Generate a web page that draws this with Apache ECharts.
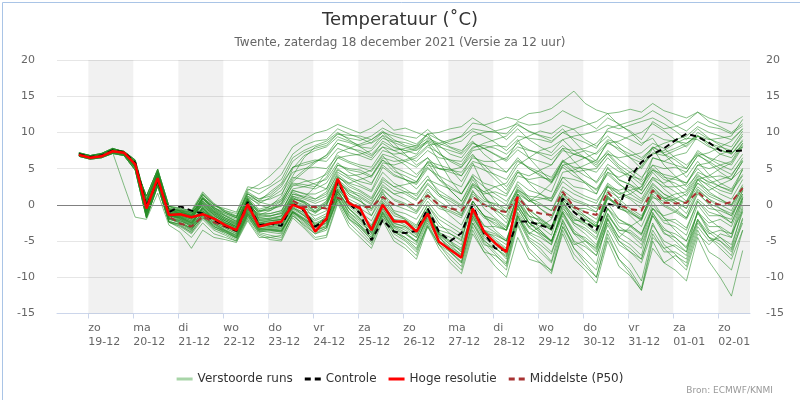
<!DOCTYPE html>
<html><head><meta charset="utf-8">
<script src="https://cdn.jsdelivr.net/npm/echarts@6/dist/echarts.min.js"></script>
<style>html,body{margin:0;padding:0;background:#fff}#c{width:800px;height:400px}</style>
</head><body><div id="c"></div><script>
// Tick labels (one per day, tick at local midnight)
const dayNames = ['zo','ma','di','wo','do','vr','za','zo','ma','di','wo','do','vr','za','zo'];
const dayDates = ['19-12','20-12','21-12','22-12','23-12','24-12','25-12','26-12','27-12','28-12','29-12','30-12','31-12','01-01','02-01'];
const shadedDays = [0,2,4,6,8,10,12,14];
// forecast steps: 6-hourly from 18-12 19h local (hours relative to 19-12 00h)
const firstStepHour = -5, stepHours = 6, nSteps = 60;

const hoogResolutie = [6.9,6.5,6.7,7.4,7.2,5.6,-0.5,3.7,-1.4, -1.3,-1.7,-1.3,-1.9, -2.8,-3.5,0.1,-3.0, -2.6,-2.3,0.0,-0.6, -3.7,-1.9,3.6,0.2, -0.5,-3.5,0.0,-2.3, -2.3,-3.7,-1.2,-5.1, -6.2,-7.3,-0.5,-3.7, -5.3,-6.5,1.1];
const controle = [7.0,6.6,6.8,7.5,7.3,5.8,-0.2,3.4,-1.0, -0.2,-0.8,-1.2,-2.1, -2.9,-3.6,0.4,-2.8, -2.6,-2.9,0.2,-0.8, -3.0,-2.0,3.2,0.2, -1.2,-4.9,-2.1,-3.7, -3.9,-3.6,-0.5,-3.7, -5.0,-3.9,0.0,-3.9, -6.0,-6.3,-2.3,-2.3, -2.8,-3.3,0.9,-1.0, -2.3,-3.5,0.2,-0.4, 3.8,5.9,7.0,7.8, 8.9,9.8,9.4,8.6, 7.5,7.4,7.5];
const middelste = [6.9,6.5,6.7,7.4,7.2,5.6,-0.4,3.6,-1.6, -2.6,-3.0,-1.6,-2.4, -3.0,-3.6,-0.3,-2.8, -2.6,-2.4,0.6,-0.3, -0.3,-0.5,1.0,0.3, -0.3,-0.3,1.1,0.0, 0.0,0.0,1.3,0.0, -0.5,-0.8,1.1,0.0, -0.7,-1.0,1.1,-0.7, -1.2,-1.4,1.8,-0.3, -1.0,-1.4,1.8,0.0, -0.6,-0.8,2.0,0.3, 0.2,0.3,1.8,0.4, 0.0,0.4,2.3];

const member01 = [7.0,6.6,6.8,7.5,7.3,5.9,-0.3,3.9,-1.2, -1.0,-1.5,0.8,-0.5, -1.2,-1.8,2.0,2.8, 4.0,5.5,8.0,9.0, 9.9,10.3,11.1,10.5, 9.9,10.6,11.7,10.3, 10.6,10.0,9.4,8.2, 7.0,6.5,8.5,7.8, 7.0,6.2,8.8,9.5, 10.2,9.8,11.0,10.4, 9.0,8.1,9.5,8.0, 6.5,5.0,7.2,6.8, 7.5,8.2,10.0,9.1, 8.5,8.0,10.2];
const member02 = [7.1,6.7,6.9,7.7,7.4,6.2,0.5,4.6,-0.6, -0.8,-1.2,1.5,-0.3, -1.5,-2.3,0.8,-1.0, -0.6,0.2,3.5,4.8, 6.0,6.8,8.5,8.0, 7.2,6.5,8.8,7.9, 7.5,7.0,9.0,8.2, 8.8,9.5,11.3,11.0, 11.5,12.1,11.7,12.6, 12.8,13.3,14.5,15.7, 14.0,13.1,12.6,11.0, 10.2,9.0,11.5,10.5, 10.8,11.5,12.8,12.0, 11.5,11.2,12.2];
const member03 = [6.9,6.5,6.8,7.6,7.0,5.2,1.2,4.9,-0.2, -0.5,-0.8,1.8,0.2, -0.8,-1.5,1.5,0.5, 0.8,1.5,4.0,6.5, 8.0,8.5,9.8,9.2, 8.9,9.5,10.6,9.8, 9.5,9.2,10.4,9.0, 8.4,8.8,10.2,9.5, 8.6,7.5,9.0,6.5, 4.8,3.2,6.0,4.5, 3.0,1.5,5.2,3.4, 2.8,2.0,6.5,6.0, 6.8,7.2,9.5,9.0, 9.2,9.5,11.8];
const member04 = [7.0,6.6,6.9,7.5,7.2,5.8,-0.5,3.6,-1.3, -1.6,-2.2,0.5,-1.0, -2.0,-2.6,0.6,-0.8, -0.5,0.5,3.2,4.5, 5.8,6.9,9.0,8.6, 8.0,7.8,9.6,8.8, 8.6,8.1,9.2,8.5, 7.9,7.2,9.5,10.0, 10.2,10.6,11.2,10.1, 9.5,8.8,10.0,9.2, 8.6,7.8,10.5,11.0, 11.5,12.0,13.0,12.1, 11.0,10.2,11.5,10.8, 10.5,9.8,10.9];
const member05 = [7.2,6.8,7.1,7.8,7.3,5.6,-0.8,3.4,-1.5, -1.8,-2.5,0.2,-1.4, -2.5,-3.0,0.4,-1.0, -0.2,1.2,5.0,6.8, 7.5,8.0,9.4,8.8, 8.2,8.6,10.0,9.5, 9.0,8.4,9.8,7.5, 5.0,3.2,5.8,2.5, 0.5,-1.0,2.5,0.8, -0.5,-1.8,1.5,-0.2, -1.5,-2.8,1.0,-0.5, -1.2,-2.0,2.2,1.0, 0.5,-0.5,3.5,2.8, 2.0,1.5,5.0];
const member06 = [6.8,6.4,6.6,7.3,7.1,5.4,-1.0,3.2,-1.8, -2.0,-2.8,-0.5,-2.0, -2.8,-3.3,-0.2,-2.2, -2.0,-1.5,1.5,1.0, 2.5,4.5,7.2,7.8, 8.4,9.0,10.2,9.0, 8.2,7.9,8.8,7.0, 6.2,5.5,7.8,8.5, 9.0,9.5,11.0,10.2, 9.6,9.2,10.5,8.8, 7.2,6.0,8.8,7.5, 6.5,5.8,8.0,7.0, 6.2,5.0,7.5,6.4, 5.5,4.8,7.0];
const member07 = [7.1,6.8,7.0,7.6,7.3,6.0,0.2,4.3,-0.8, -1.0,-1.4,1.2,-0.6, -1.4,-2.0,1.0,0.2, 1.0,2.0,4.5,5.0, 5.2,5.0,6.8,6.0, 5.5,5.2,7.5,7.0, 7.2,7.6,8.8,8.0, 7.5,7.0,8.6,7.8, 6.9,6.0,7.6,6.5, 6.0,5.5,7.8,7.5, 7.8,8.5,10.2,9.6, 9.0,8.2,9.8,9.0, 8.8,8.5,9.6,8.5, 7.6,7.0,9.0];
const member08 = [6.7,6.3,6.5,7.1,6.8,4.8,-1.8,2.6,-2.4, -2.6,-3.2,-0.8,-2.3, -3.0,-3.8,-0.5,-2.6, -3.0,-3.2,0.2,-0.5, -1.0,0.5,3.8,3.0, 3.5,4.0,6.5,6.0, 6.2,6.8,8.2,8.5, 9.0,9.4,10.5,10.2, 10.0,9.8,11.5,11.0, 11.2,11.8,13.0,12.2, 11.5,10.5,12.0,11.2, 10.0,8.5,9.2,7.0, 5.5,3.8,6.0,4.2, 3.0,2.2,4.8];
const member09 = [6.9,6.6,6.8,7.4,7.1,5.5,0.6,4.4,-0.7, -1.2,-1.8,0.9,-0.9, -1.8,-2.4,0.9,-1.3, -1.6,-1.0,2.0,1.5, 1.5,2.2,5.5,5.0, 4.8,4.0,6.2,5.2, 4.5,3.8,5.9,5.0, 4.8,5.2,7.5,7.8, 8.2,8.0,9.5,9.2, 9.0,8.6,10.0,10.5, 11.0,11.5,12.6,12.8, 13.2,12.8,14.0,13.0, 12.5,12.0,12.8,11.5, 10.8,10.0,11.2];
const member10 = [7.0,6.5,6.7,7.4,7.2,5.7,-0.4,3.8,-1.2, -1.4,-2.0,0.6,-0.8, -1.5,-2.2,1.2,0.5, 1.8,3.0,6.0,7.2, 7.8,8.2,9.8,9.6, 9.5,9.0,10.0,8.5, 7.0,5.5,6.5,4.0, 2.0,0.5,3.5,1.2, -0.5,-2.0,1.5,-1.0, -2.5,-3.5,0.5,-1.8, -2.8,-4.0,0.2,-2.0, -3.0,-4.2,-0.5,-1.5, -1.0,0.5,3.5,4.0, 5.0,5.8,8.2];
const member11 = [7.1,6.7,7.0,7.7,7.3,5.7,-0.6,3.5,-1.4, -1.5,-2.0,0.8,-0.4, -1.0,-1.6,1.2,0.0, -0.5,-0.2,2.2,2.5, 3.0,3.5,5.8,4.5, 3.8,3.0,5.5,4.2, 3.5,2.8,5.0,4.0, 3.2,2.5,5.5,4.8, 4.2,3.5,6.0,5.2, 4.5,3.8,6.2,5.0, 4.0,3.2,5.6,4.6, 4.0,3.5,6.5,6.0, 5.5,5.0,7.2,6.5, 6.0,5.5,8.0];
const member12 = [6.8,6.5,6.6,7.3,7.0,5.3,-1.2,3.0,-1.9, -2.2,-3.0,-0.2,-1.6, -2.2,-3.0,0.3,-1.5, -1.2,-0.8,1.8,1.0, 0.5,1.2,4.5,3.6, 2.8,2.0,5.2,4.0, 3.5,3.0,6.0,5.5, 5.0,4.0,6.8,5.5, 4.0,2.5,4.8,3.0, 1.5,0.5,3.8,2.5, 2.2,1.5,4.5,3.8, 4.5,5.2,7.8,8.5, 9.0,9.5,10.8,10.0, 9.5,9.0,10.5];
const member13 = [7.0,6.6,6.8,7.5,7.3,5.9,-0.3,3.9,-1.2, -1.3,-1.7,-1.0,-1.8, -2.6,-3.4,0.2,-2.8, -2.4,-2.0,0.5,-0.2, -2.0,-1.2,3.0,1.2, 0.5,-0.5,2.0,0.8, 0.2,-0.8,1.8,0.5, -0.5,-1.2,1.5,0.2, -0.8,-1.6,1.8,0.5, 0.0,-0.8,2.5,1.5, 0.8,0.2,3.0,1.8, 1.0,0.2,2.8,1.5, 0.8,0.2,2.5,1.2, 0.5,0.0,2.8];
const member14 = [7.2,6.8,7.1,7.8,7.3,5.6,-0.8,3.4,-1.5, -1.7,-2.4,-0.6,-2.1, -3.0,-3.6,-0.5,-2.9, -2.8,-2.5,0.2,-0.8, -1.5,-0.8,2.8,0.8, 0.0,-0.8,1.5,0.0, -0.6,-1.2,1.0,-0.5, -1.0,-1.8,1.2,0.0, -0.5,-1.0,2.0,1.2, 1.0,0.5,3.2,2.0, 1.2,0.6,2.6,0.8, -0.5,-1.5,1.2,-0.2, -1.0,-2.0,0.8,-0.5, -0.8,-1.5,1.5];
const member15 = [6.8,6.4,6.6,7.3,7.1,5.4,-1.0,3.2,-1.8, -2.2,-2.8,-1.5,-2.6, -3.4,-4.2,-1.0,-3.2, -3.5,-3.8,-0.8,-1.8, -3.0,-2.5,1.8,-1.0, -2.5,-3.8,-0.5,-2.8, -3.5,-4.5,-1.5,-3.8, -5.0,-6.0,-1.8,-4.0, -5.0,-6.2,-1.0,-3.2, -4.0,-5.0,-0.8,-2.5, -3.2,-4.5,-0.5,-2.0, -2.8,-4.0,0.0,-1.8, -2.5,-3.5,0.5,-1.0, -1.5,-2.5,1.2];
const member16 = [6.7,6.3,6.5,7.1,6.8,4.8,-1.8,2.6,-2.4, -3.0,-4.0,-2.0,-3.5, -4.2,-5.0,-1.5,-4.0, -4.5,-4.8,-1.2,-3.0, -4.5,-4.2,0.5,-2.5, -4.0,-5.5,-1.8,-4.5, -5.5,-7.0,-2.5,-5.5, -7.0,-8.5,-3.0,-6.0, -7.5,-9.0,-2.8,-6.5, -8.0,-9.5,-3.5,-6.8, -8.5,-10.0,-4.0,-7.5, -9.5,-11.8,-5.0,-8.0, -9.0,-10.5,-4.5,-7.8, -10.0,-12.6,-6.3];
const member17 = [6.9,6.5,6.8,7.6,7.0,5.2,1.2,4.9,-0.2, -0.6,-1.0,0.2,-1.2, -2.2,-3.0,0.8,-2.0, -2.0,-1.8,1.0,0.2, -1.0,0.0,3.4,1.5, 0.8,-1.5,1.8,-1.0, -2.0,-3.5,-0.5,-4.0, -5.5,-7.0,-1.0,-4.5, -5.8,-7.5,-1.5,-4.8, -6.0,-7.8,-2.0,-5.2, -6.5,-8.2,-1.8,-4.5, -5.5,-7.0,-1.0,-3.8, -5.0,-6.5,-0.8,-3.5, -4.5,-6.0,-0.5];
const member18 = [7.0,6.6,6.8,7.5,7.2,5.8,-0.2,4.0,-1.0, -1.2,-1.6,0.0,-1.5, -2.4,-3.2,0.4,-2.6, -2.6,-2.8,-0.2,-1.2, -3.2,-2.0,2.5,0.0, -1.2,-3.0,0.2,-2.0, -2.8,-3.8,-0.8,-4.5, -6.0,-7.0,-0.8,-3.5, -4.5,-5.5,0.5,-2.0, -3.0,-4.2,0.8,-1.0, -2.0,-3.0,2.0,1.0, 1.5,2.5,5.5,5.0, 5.2,4.5,6.8,6.0, 5.0,4.2,6.2];
const member19 = [7.1,6.7,7.0,7.6,7.2,5.5,-1.2,3.0,-1.9, -2.5,-3.5,-1.2,-3.0, -3.8,-4.6,-1.4,-3.6, -3.8,-4.0,-1.0,-2.2, -3.5,-3.0,1.2,-1.5, -3.0,-4.5,-1.2,-3.5, -4.5,-5.5,-2.0,-5.0, -6.5,-8.0,-2.5,-5.0, -6.0,-7.2,-1.2,-3.8, -4.5,-5.5,0.2,-1.5, -2.5,-3.0,1.5,0.5, -1.0,-2.0,2.0,0.8, -0.5,-1.8,1.8,0.0, -1.2,-2.5,1.0];
const member20 = [7.1,6.7,6.9,7.7,7.4,6.2,0.5,4.6,-0.6, -0.9,-1.3,-0.2,-1.3, -2.2,-2.8,0.6,-2.2, -2.2,-2.0,0.4,-0.6, -3.0,-1.5,3.0,0.4, -0.8,-3.2,0.3,-2.0, -2.2,-3.2,-0.8,-4.0, -5.0,-6.5,-0.5,-3.5, -4.8,-6.0,0.8,-2.5, -2.5,-3.2,1.2,-0.5, -1.8,-3.0,0.8,0.0, 3.5,5.5,7.0,7.5, 8.5,9.2,9.0,8.0, 7.5,7.2,8.0];
const member21 = [6.9,6.5,6.7,7.4,7.1,5.5,-0.8,3.5,-1.6, -1.8,-2.6,-0.4,-1.8, -2.5,-3.0,0.2,-1.4, -0.8,0.2,2.6,3.2, 3.5,4.2,6.5,5.8, 5.2,4.6,6.8,5.0, 3.5,2.2,4.0,1.5, 0.0,-1.5,2.0,-0.5, -1.8,-3.0,0.5,-1.5, -2.2,-3.5,-0.2,-2.8, -4.0,-5.5,-1.2,-3.8, -4.8,-6.0,-1.5,-4.0, -4.5,-5.8,-1.0,-2.5, -2.0,-3.0,0.8];
const member22 = [6.7,6.4,6.6,7.2,6.9,5.0,-1.5,2.8,-2.2, -2.8,-3.8,-1.6,-3.2, -4.0,-4.8,-1.8,-3.8, -4.2,-4.5,-1.5,-2.6, -4.0,-3.5,0.8,-2.0, -3.5,-5.2,-1.5,-4.0, -5.0,-6.5,-3.0,-6.0, -8.0,-9.5,-4.0,-6.5, -7.0,-8.2,-2.0,-5.0, -6.5,-8.0,-3.0,-6.0, -7.5,-9.0,-3.5,-6.5, -8.0,-10.5,-4.0,-6.5, -6.5,-7.5,-2.5,-4.5, -5.5,-7.0,-2.0];
const member23 = [7.0,6.6,6.8,7.5,7.3,5.9,-0.3,3.9,-1.2, -1.5,-2.2,-0.8,-2.2, -3.0,-3.8,-0.6,-3.0, -3.0,-2.8,-0.5,-1.0, -2.2,-1.5,2.2,0.5, -0.5,-1.5,1.0,-0.8, -1.2,-2.0,0.5,-1.5, -2.5,-3.5,0.0,-1.8, -2.5,-3.5,0.2,-1.6, -2.0,-3.0,0.8,-1.0, -1.5,-2.5,1.2,-0.5, -1.0,-2.2,1.5,0.0, -0.8,-1.8,1.5,0.2, -0.5,-1.2,2.0];
const member24 = [7.0,6.6,6.9,7.6,7.1,5.4,0.8,4.6,-0.4, -0.7,-1.1,0.5,-0.9, -1.8,-2.6,0.2,-1.8, -1.5,-1.2,1.2,0.8, 0.2,0.8,4.0,2.5, 1.8,0.8,3.2,2.0, 1.5,0.6,2.8,1.2, 0.5,-0.5,2.5,1.5, 1.8,1.2,4.0,3.5, 3.8,3.5,6.0,5.2, 5.0,4.5,6.5,5.0, 3.5,2.0,4.5,2.8, 1.8,0.5,3.0,1.5, 0.8,0.0,2.5];
const member25 = [7.2,6.8,7.1,7.8,7.3,5.6,-0.8,3.4,-1.5, -2.0,-2.9,-1.0,-2.5, -3.2,-4.0,-0.8,-3.3, -3.2,-3.3,-0.6,-1.5, -2.6,-2.2,2.0,-0.5, -1.8,-3.5,0.0,-2.5, -3.0,-4.2,-1.0,-4.2, -6.5,-7.8,-1.5,-4.8, -6.5,-8.0,-1.8,-4.0, -3.0,-2.0,1.5,0.5, 0.0,-1.0,2.8,1.5, 0.8,-0.5,2.5,1.0, 0.2,-1.2,2.0,0.8, 0.0,-0.8,2.5];
const member26 = [6.8,6.4,6.6,7.3,7.1,5.4,-1.0,3.2,-1.8, -2.4,-3.2,-1.8,-2.8, -3.6,-4.4,-1.2,-3.4, -3.3,-3.5,-0.9,-2.0, -3.5,-2.8,1.5,-1.2, -2.8,-4.2,-1.0,-3.2, -4.0,-5.0,-1.8,-4.5, -5.8,-6.8,-1.5,-4.2, -5.5,-6.8,-1.5,-4.5, -5.5,-6.8,-2.2,-5.0, -5.8,-7.0,-2.5,-5.0, -6.5,-7.5,-2.8,-5.0, -5.8,-7.0,-2.2,-4.5, -5.0,-6.2,-1.8];
const member27 = [7.0,6.7,6.9,7.6,7.4,6.0,0.2,4.2,-0.8, -1.0,-1.5,0.0,-1.4, -2.4,-3.2,0.0,-2.4, -2.5,-2.4,0.3,-0.5, -2.8,-1.8,2.8,0.2, -1.0,-2.8,0.5,-1.5, -2.0,-3.0,0.0,-2.5, -4.0,-5.0,0.5,-1.5, -2.8,-3.5,1.5,0.5, 1.5,3.0,6.0,7.0, 7.5,7.0,8.5,7.8, 7.0,6.2,8.0,7.2, 7.8,8.5,9.5,8.2, 7.0,6.5,8.5];
const member28 = [6.9,6.6,6.8,7.4,7.2,5.7,-0.6,3.6,-1.4, -1.6,-2.3,-0.4,-1.9, -2.8,-3.6,0.0,-2.5, -2.2,-2.0,0.8,0.5, -0.5,0.5,3.5,2.2, 1.0,0.0,2.8,1.5, 0.8,-0.2,2.2,0.0, -1.5,-2.8,0.5,-1.5, -2.2,-3.5,0.0,-2.5, -3.5,-5.0,-1.0,-3.8, -5.0,-6.5,-2.0,-5.0, -6.0,-7.5,-2.5,-5.5, -6.8,-8.5,-3.5,-6.5, -7.5,-9.0,-3.5];
const member29 = [6.9,6.5,6.8,7.6,7.0,5.2,1.2,4.9,-0.2, -0.4,-0.9,1.4,0.0, -1.0,-1.8,1.6,0.4, 0.0,0.8,3.8,3.5, 2.8,2.2,5.0,3.8, 3.2,2.8,5.8,5.5, 6.0,6.5,8.0,7.2, 6.0,5.2,7.0,5.0, 3.5,2.0,4.5,3.2, 2.5,1.8,5.5,5.8, 6.5,7.2,9.0,8.5, 7.5,6.5,7.8,5.5, 4.0,2.5,4.2,3.0, 3.5,4.0,6.5];
const member30 = [6.7,6.3,6.5,7.1,6.8,4.8,-1.8,2.6,-2.4, -2.9,-3.8,-1.8,-3.3, -3.8,-4.6,-1.6,-3.7, -3.6,-3.7,-1.1,-2.4, -3.8,-3.2,1.0,-1.8, -3.2,-4.8,-1.5,-3.8, -4.5,-6.0,-2.2,-5.0, -6.0,-7.2,-2.0,-5.2, -6.8,-8.5,-2.5,-6.0, -7.5,-9.2,-4.0,-7.5, -9.0,-10.8,-5.0,-8.5, -9.8,-11.8,-6.0,-8.0, -7.0,-8.0,-3.0,-5.0, -4.5,-5.5,-1.0];
const member31 = [7.1,6.8,7.0,7.6,7.2,5.6,-0.4,3.8,-1.1, -1.2,-1.8,0.9,-0.7, -1.8,-2.5,0.8,-0.8, -0.8,0.0,2.8,2.5, 2.2,3.0,5.5,4.8, 4.5,3.8,6.2,4.6, 4.0,3.2,5.2,3.5, 2.5,1.5,4.2,3.0, 2.5,1.5,4.5,4.0, 4.8,5.5,7.5,7.0, 6.5,5.8,7.2,5.5, 4.5,3.2,5.0,3.8, 3.5,3.0,5.5,5.0, 5.5,6.0,8.5];
const member32 = [7.0,6.6,6.8,7.5,7.3,5.9,-0.3,3.9,-1.2, -1.9,-2.6,-1.2,-2.4, -3.2,-4.0,-0.9,-3.2, -3.1,-3.0,-0.4,-1.4, -2.8,-2.0,1.8,-0.2, -1.5,-3.0,0.0,-2.2, -2.5,-3.5,-0.5,-3.0, -3.5,-4.5,-0.5,-2.8, -3.8,-5.0,-0.5,-3.0, -4.2,-5.5,-1.5,-4.0, -4.5,-5.8,-1.2,-3.5, -3.5,-4.8,-0.5,-2.5, -3.0,-4.2,0.0,-2.0, -3.2,-4.5,-0.2];
const member33 = [6.9,6.5,6.7,7.4,7.2,5.6,-0.7,3.4,-1.5, -1.7,-2.5,-0.8,-2.0, -2.9,-3.5,-0.3,-2.7, -2.5,-2.2,0.6,0.0, -1.2,0.0,3.2,1.8, 1.2,0.2,2.5,1.5, 1.8,1.5,3.5,2.8, 2.2,1.5,3.8,2.5, 1.5,0.5,2.8,1.0, 0.2,-0.8,2.0,0.8, 0.2,-0.5,2.5,1.5, 2.0,2.5,4.8,4.2, 3.8,3.0,5.0,3.5, 2.5,1.8,4.0];
const member34 = [7.0,6.6,6.9,7.5,7.1,5.5,0.9,4.5,-0.5, -0.8,-1.3,1.0,-0.6, -1.6,-2.3,1.0,-0.6, -0.2,0.6,3.0,2.8, 2.5,3.8,6.5,6.8, 7.0,7.5,9.2,8.6, 8.0,7.5,8.6,6.0, 3.5,1.5,4.0,1.2, -1.0,-2.5,1.0,-1.5, -3.5,-5.0,-1.2,-4.0, -5.5,-7.0,-2.8,-5.5, -6.5,-8.0,-3.5,-6.0, -7.5,-9.0,-4.0,-5.5, -4.0,-4.5,0.5];
const member35 = [7.1,6.7,6.9,7.7,7.4,6.2,0.5,4.6,-0.6, -0.7,-1.0,1.6,0.1, -1.0,-1.6,1.8,0.8, 1.2,2.5,5.2,5.8, 6.2,6.0,7.8,7.2, 6.8,6.2,8.0,7.5, 7.8,8.2,9.8,9.0, 8.0,7.5,8.8,7.0, 5.8,4.5,6.5,5.0, 4.2,3.0,5.2,4.0, 3.2,2.0,4.2,2.8, 2.0,0.8,3.5,2.5, 2.5,2.8,5.5,5.8, 7.0,7.5,9.5];
const member36 = [6.8,6.4,6.6,7.2,7.0,5.1,-1.4,3.0,-2.0, -2.5,-3.4,-1.0,-2.6, -3.5,-4.2,-0.7,-3.0, -2.8,-2.6,0.0,-0.8, -2.5,-1.8,2.2,0.2, -1.0,-2.2,0.8,-1.2, -1.8,-2.8,0.0,-2.0, -3.0,-4.0,0.5,-1.5, -3.5,-4.8,-0.2,-2.5, -3.8,-5.2,-0.5,-2.2, -2.0,-3.0,1.0,0.0, -1.5,-3.0,0.5,-1.8, -3.5,-5.0,-1.0,-3.8, -5.0,-6.5,-2.5];
const member37 = [7.2,6.8,7.1,7.8,7.3,5.6,-0.8,3.4,-1.5, -1.9,-2.7,-0.3,-1.7, -2.6,-3.2,0.0,-2.0, -1.8,-1.5,1.2,0.5, -0.5,0.2,3.8,2.8, 2.0,1.0,3.8,2.5, 1.8,0.8,3.0,1.5, 0.8,-0.2,2.8,1.8, 1.0,0.0,3.2,2.0, 1.5,0.8,4.5,4.8, 5.5,6.2,8.5,8.8, 9.5,10.0,11.2,10.2, 9.0,8.0,9.5,8.5, 8.0,7.5,9.8];
const member38 = [6.8,6.4,6.6,7.3,7.1,5.4,-1.0,3.2,-1.8, -2.1,-3.0,-1.4,-2.7, -3.5,-4.3,-1.1,-3.5, -3.4,-3.5,-0.9,-1.9, -3.2,-2.6,1.5,-1.0, -2.2,-3.8,-0.8,-3.0, -3.8,-5.0,-1.5,-4.0, -5.2,-6.5,-1.2,-4.0, -4.2,-5.0,0.0,-2.5, -3.8,-5.0,-1.0,-3.5, -4.8,-6.2,-2.0,-4.5, -3.0,-2.0,1.0,0.5, 0.8,1.5,3.8,2.5, 1.5,0.8,3.5];
const member39 = [7.0,6.6,6.8,7.5,7.3,5.9,-0.3,3.9,-1.2, -1.1,-1.6,0.4,-1.1, -2.0,-2.8,0.5,-1.6, -1.5,-1.2,1.5,1.2, 0.8,1.8,4.8,4.0, 4.2,4.8,7.0,6.5, 5.5,4.2,5.8,3.5, 2.0,0.5,3.0,1.8, 2.5,3.0,5.5,6.5, 7.5,8.0,9.0,9.5, 9.8,10.2,11.0,10.5, 11.0,11.5,12.0,11.2, 10.2,9.0,10.5,9.2, 8.2,7.0,8.8];
const member40 = [6.7,6.3,6.5,7.1,6.8,4.8,-1.8,2.6,-2.4, -3.2,-4.5,-2.5,-4.0, -4.5,-5.0,-2.0,-4.2, -4.8,-5.0,-1.8,-3.2, -4.8,-4.5,0.2,-3.0, -4.5,-6.0,-2.2,-5.0, -6.0,-7.5,-3.0,-5.5, -6.5,-8.0,-2.5,-5.5, -6.0,-7.0,-1.5,-4.0, -5.0,-6.5,-2.5,-6.0, -8.0,-10.0,-4.5,-7.5, -9.0,-11.5,-4.5,-6.0, -5.5,-6.5,-2.0,-4.0, -3.5,-4.0,1.0];
const member41 = [7.1,6.8,7.0,7.7,7.3,6.0,0.4,4.4,-0.7, -0.8,-1.1,1.4,0.0, -0.8,-1.2,2.2,1.5, 2.5,3.5,6.5,7.5, 8.2,8.8,10.0,9.0, 8.0,7.0,8.5,7.5, 6.8,6.0,7.5,6.5, 6.2,6.0,8.0,8.2, 7.8,7.0,8.5,7.6, 7.0,6.2,7.8,6.0, 4.5,3.0,5.0,3.5, 2.8,1.5,3.8,3.0, 3.8,4.5,6.8,7.2, 8.0,8.8,10.5];
const member42 = [7.0,6.7,6.9,7.6,7.3,5.7,-0.5,3.7,-1.3, -1.4,-2.0,0.2,-1.2, -2.2,-3.0,0.6,-1.8, -1.9,-1.6,1.0,0.3, -0.8,0.2,3.6,1.5, 0.5,-0.6,2.2,0.6, 0.0,-1.0,1.5,-0.2, -0.8,-1.5,1.8,0.5, 0.2,-0.5,2.2,0.8, -0.5,-1.5,1.5,-0.2, -1.0,-2.0,1.2,-0.2, -0.8,-1.8,1.8,0.8, 1.5,1.8,4.0,3.2, 2.5,2.0,4.2];
const member43 = [6.9,6.5,6.8,7.6,7.0,5.2,1.2,4.9,-0.2, -0.9,-1.5,-0.5,-1.8, -2.8,-3.5,0.0,-2.6, -2.7,-2.9,-0.3,-1.5, -3.5,-2.4,2.0,-0.5, -2.0,-4.0,-0.5,-3.0, -3.2,-4.5,-1.0,-4.2, -5.5,-6.2,-0.5,-3.0, -3.0,-3.5,1.5,-0.5, -2.0,-3.2,0.5,-2.5, -3.5,-4.8,-0.5,-3.0, -4.0,-5.5,-1.5,-3.5, -4.0,-5.0,-1.2,-3.0, -3.0,-4.0,-0.8];
const member44 = [7.0,6.6,6.8,7.4,7.2,5.8,-0.4,3.8,-1.3, -1.7,-2.4,-0.6,-2.0, -2.7,-3.4,0.1,-2.4, -2.2,-2.0,0.8,0.4, -1.0,-0.2,3.2,2.0, 1.5,0.5,3.5,2.5, 2.8,3.2,5.5,5.0, 4.8,4.5,6.5,6.0, 6.0,6.5,8.0,7.5, 7.2,6.8,8.2,7.0, 6.5,5.5,7.5,6.2, 5.0,3.8,5.5,4.0, 2.5,1.2,3.5,1.8, 0.8,-0.2,2.2];
const member45 = [6.8,6.5,6.7,7.2,7.0,5.2,-1.3,2.9,-2.0, -2.3,-3.3,-1.6,-3.0, -3.6,-4.5,-1.2,-3.6, -3.4,-3.6,-1.0,-2.0, -3.0,-2.2,1.8,-0.6, -2.0,-3.5,-0.2,-2.6, -3.0,-4.0,-1.2,-3.8, -4.5,-5.5,-1.0,-3.5, -4.0,-5.0,-0.5,-3.0, -2.5,-3.5,1.0,-0.5, -0.5,-1.0,2.5,2.0, 2.5,1.5,3.8,2.2, 1.0,0.2,3.0,2.0, 2.8,3.5,6.0];
const member46 = [7.0,6.6,6.8,7.5,7.2,5.6,0.6,4.2,-0.8, -1.0,-1.4,1.0,-0.4, -1.2,-1.8,1.5,0.8, 1.5,2.8,5.2,5.5, 6.0,6.5,8.5,7.8, 7.5,6.8,8.0,6.8, 6.0,5.2,6.5,5.0, 4.5,4.0,6.0,5.5, 5.0,4.5,6.2,5.0, 4.0,3.2,5.5,4.5, 4.8,5.0,7.0,6.5, 6.8,7.2,8.5,7.8, 6.5,5.5,7.0,5.8, 4.5,3.5,5.0];
const member47 = [6.8,6.4,6.7,7.2,2.7,-1.7,-2.0,1.6,-2.8, -3.8,-6.0,-3.5,-4.5, -4.8,-5.2,-2.2,-4.5, -4.5,-4.2,-1.5,-2.8, -4.0,-3.2,0.8,-2.0, -3.0,-4.8,-1.0,-3.5, -4.0,-5.2,-1.5,-3.5, -4.0,-4.8,0.5,-1.5, -2.0,-3.2,1.2,-0.8, -1.8,-3.0,0.0,-2.0, -2.5,-3.8,-0.5,-2.5, -2.8,-4.0,-0.5,-2.2, -2.0,-3.2,0.5,-1.5, -1.5,-2.0,2.0];
const member48 = [7.1,6.7,7.0,7.6,7.3,6.1,0.0,4.1,-0.9, -1.2,-1.9,0.3,-1.0, -2.0,-2.7,0.7,-1.2, -1.2,-0.8,2.0,1.6, 0.8,1.5,4.2,3.0, 2.5,1.8,4.5,3.0, 2.2,1.2,3.5,2.0, 1.0,0.0,2.8,0.8, 0.0,-1.0,2.0,0.5, 0.8,1.0,3.8,3.5, 3.0,2.2,4.5,3.0, 1.5,0.5,3.0,1.5, 0.5,-0.5,2.2,0.8, -0.5,-1.5,1.5];
const member49 = [6.8,6.4,6.6,7.1,6.9,5.0,-1.6,2.7,-2.3, -2.7,-3.6,-1.3,-3.0, -3.7,-4.5,-1.3,-3.4, -3.5,-3.6,-1.0,-2.2, -3.6,-3.0,1.0,-1.5, -2.8,-4.5,-1.2,-3.6, -4.8,-6.2,-2.8,-5.5, -7.5,-9.0,-3.5,-6.5, -8.5,-10.0,-4.5,-7.5, -8.0,-9.0,-3.0,-5.5, -5.0,-6.0,-1.5,-3.5, -3.8,-5.0,-1.2,-3.2, -4.5,-6.0,-2.0,-4.5, -6.0,-7.5,-3.5];
const member50 = [7.0,6.6,6.8,7.5,7.3,5.9,-0.3,3.9,-1.2, -1.2,-1.5,1.0,-0.2, -0.5,-1.0,2.5,2.2, 2.8,4.2,7.0,8.2, 8.8,9.0,10.5,9.8, 9.2,8.5,9.5,8.0, 7.5,7.8,9.8,10.0, 10.5,10.8,12.0,11.0, 10.2,9.0,10.5,9.0, 8.0,7.2,9.0,7.5, 6.5,5.2,7.0,5.2, 4.0,2.8,4.8,3.5, 3.0,2.0,4.5,3.8, 4.0,3.5,6.0];

const members = [member01,member02,member03,member04,member05,member06,member07,member08,member09,member10,
  member11,member12,member13,member14,member15,member16,member17,member18,member19,member20,
  member21,member22,member23,member24,member25,member26,member27,member28,member29,member30,
  member31,member32,member33,member34,member35,member36,member37,member38,member39,member40,
  member41,member42,member43,member44,member45,member46,member47,member48,member49,member50];

const xMin = -16.7, xMax = 352.9;
const times = [];
for (let k = 0; k < nSteps; k++) times.push(firstStepHour + stepHours * k);
const pairs = arr => arr.map((v, i) => [times[i], v]);
const tickHours = dayNames.map((_, i) => i * 24);

const FONT = 'DejaVu Sans';
const memberColor = 'rgba(34,139,34,0.55)';
const dashIcon = 'path://M0,0h6v3h-6z M10,0h6v3h-6z';

const series = [];
series.push({
  type: 'line', name: 'achtergrond', data: [], silent: true, z: 1, animation: false,
  markArea: { silent: true, itemStyle: { color: 'rgba(0,0,0,0.055)' },
    data: shadedDays.map(d => [{ xAxis: d * 24 }, { xAxis: Math.min((d + 1) * 24, xMax) }]) },
  markLine: { silent: true, symbol: 'none', label: { show: false }, animation: false,
    lineStyle: { color: '#808080', width: 1, type: 'solid' }, data: [{ yAxis: 0 }] }
});
members.forEach(m => series.push({
  type: 'line', name: 'Verstoorde runs', data: pairs(m), symbol: 'none', showSymbol: false,
  silent: true, z: 2, animation: false,
  lineStyle: { width: 1, color: memberColor }, itemStyle: { color: memberColor }
}));
series.push({ type: 'line', name: 'Middelste (P50)', data: pairs(middelste), symbol: 'none', z: 3, animation: false,
  lineStyle: { width: 2, color: '#a83232', type: [6, 4] }, itemStyle: { color: '#a83232' } });
series.push({ type: 'line', name: 'Controle', data: pairs(controle), symbol: 'none', z: 4, animation: false,
  lineStyle: { width: 2, color: '#000', type: [6, 4] }, itemStyle: { color: '#000' } });
series.push({ type: 'line', name: 'Hoge resolutie', data: pairs(hoogResolutie), symbol: 'none', z: 5, animation: false,
  lineStyle: { width: 2.5, color: '#ff0000' }, itemStyle: { color: '#ff0000' } });

const chart = echarts.init(document.getElementById('c'));
chart.setOption({
  animation: false,
  backgroundColor: '#fff',
  textStyle: { fontFamily: FONT },
  title: {
    text: 'Temperatuur (˚C)',
    subtext: 'Twente, zaterdag 18 december 2021 (Versie za 12 uur)',
    left: 'center', top: 6, itemGap: 8,
    textStyle: { fontFamily: FONT, fontSize: 18, fontWeight: 'normal', color: '#333' },
    subtextStyle: { fontFamily: FONT, fontSize: 12, color: '#666' }
  },
  legend: {
    top: 368, left: 'center', itemWidth: 16, itemHeight: 3, itemGap: 12,
    textStyle: { fontFamily: FONT, fontSize: 12, color: '#333' },
    data: [
      { name: 'Verstoorde runs', icon: 'rect', itemStyle: { color: '#a8d5a8' } },
      { name: 'Controle', icon: dashIcon, itemStyle: { color: '#000' } },
      { name: 'Hoge resolutie', icon: 'rect', itemStyle: { color: '#ff0000' } },
      { name: 'Middelste (P50)', icon: dashIcon, itemStyle: { color: '#a83232' } }
    ]
  },
  grid: { left: 57, right: 50, top: 60, bottom: 86.5, containLabel: false },
  xAxis: {
    type: 'value', min: xMin, max: xMax,
    splitLine: { show: false },
    axisLine: { onZero: false, lineStyle: { color: '#ccd6eb' } },
    axisTick: { show: true, customValues: tickHours, length: 5, lineStyle: { color: '#ccd6eb' } },
    axisLabel: {
      customValues: tickHours, align: 'left', color: '#666', fontSize: 11, lineHeight: 14, margin: 8,
      fontFamily: FONT,
      formatter: v => { const i = Math.round(v / 24); return dayNames[i] + '\n' + dayDates[i]; }
    }
  },
  yAxis: [
    { type: 'value', min: -15, max: 20, interval: 5, position: 'left',
      axisLine: { show: false }, axisTick: { show: false },
      splitLine: { lineStyle: { color: '#e6e6e6' } },
      axisLabel: { color: '#666', fontSize: 11, margin: 22, fontFamily: FONT } },
    { type: 'value', min: -15, max: 20, interval: 5, position: 'right',
      axisLine: { show: false }, axisTick: { show: false }, splitLine: { show: false },
      axisLabel: { color: '#666', fontSize: 11, margin: 16, fontFamily: FONT } }
  ],
  graphic: [
    { type: 'text', right: 27, top: 386, silent: true,
      style: { text: 'Bron: ECMWF/KNMI', fill: '#999', font: '9px "DejaVu Sans"' } },
    { type: 'rect', left: 0, top: 0, silent: true, z: 100,
      shape: { x: 0, y: 0, width: 799, height: 398 },
      style: { fill: 'none', stroke: '#a9c4e6', lineWidth: 1 } }
  ],
  series: series
});
</script></body></html>
